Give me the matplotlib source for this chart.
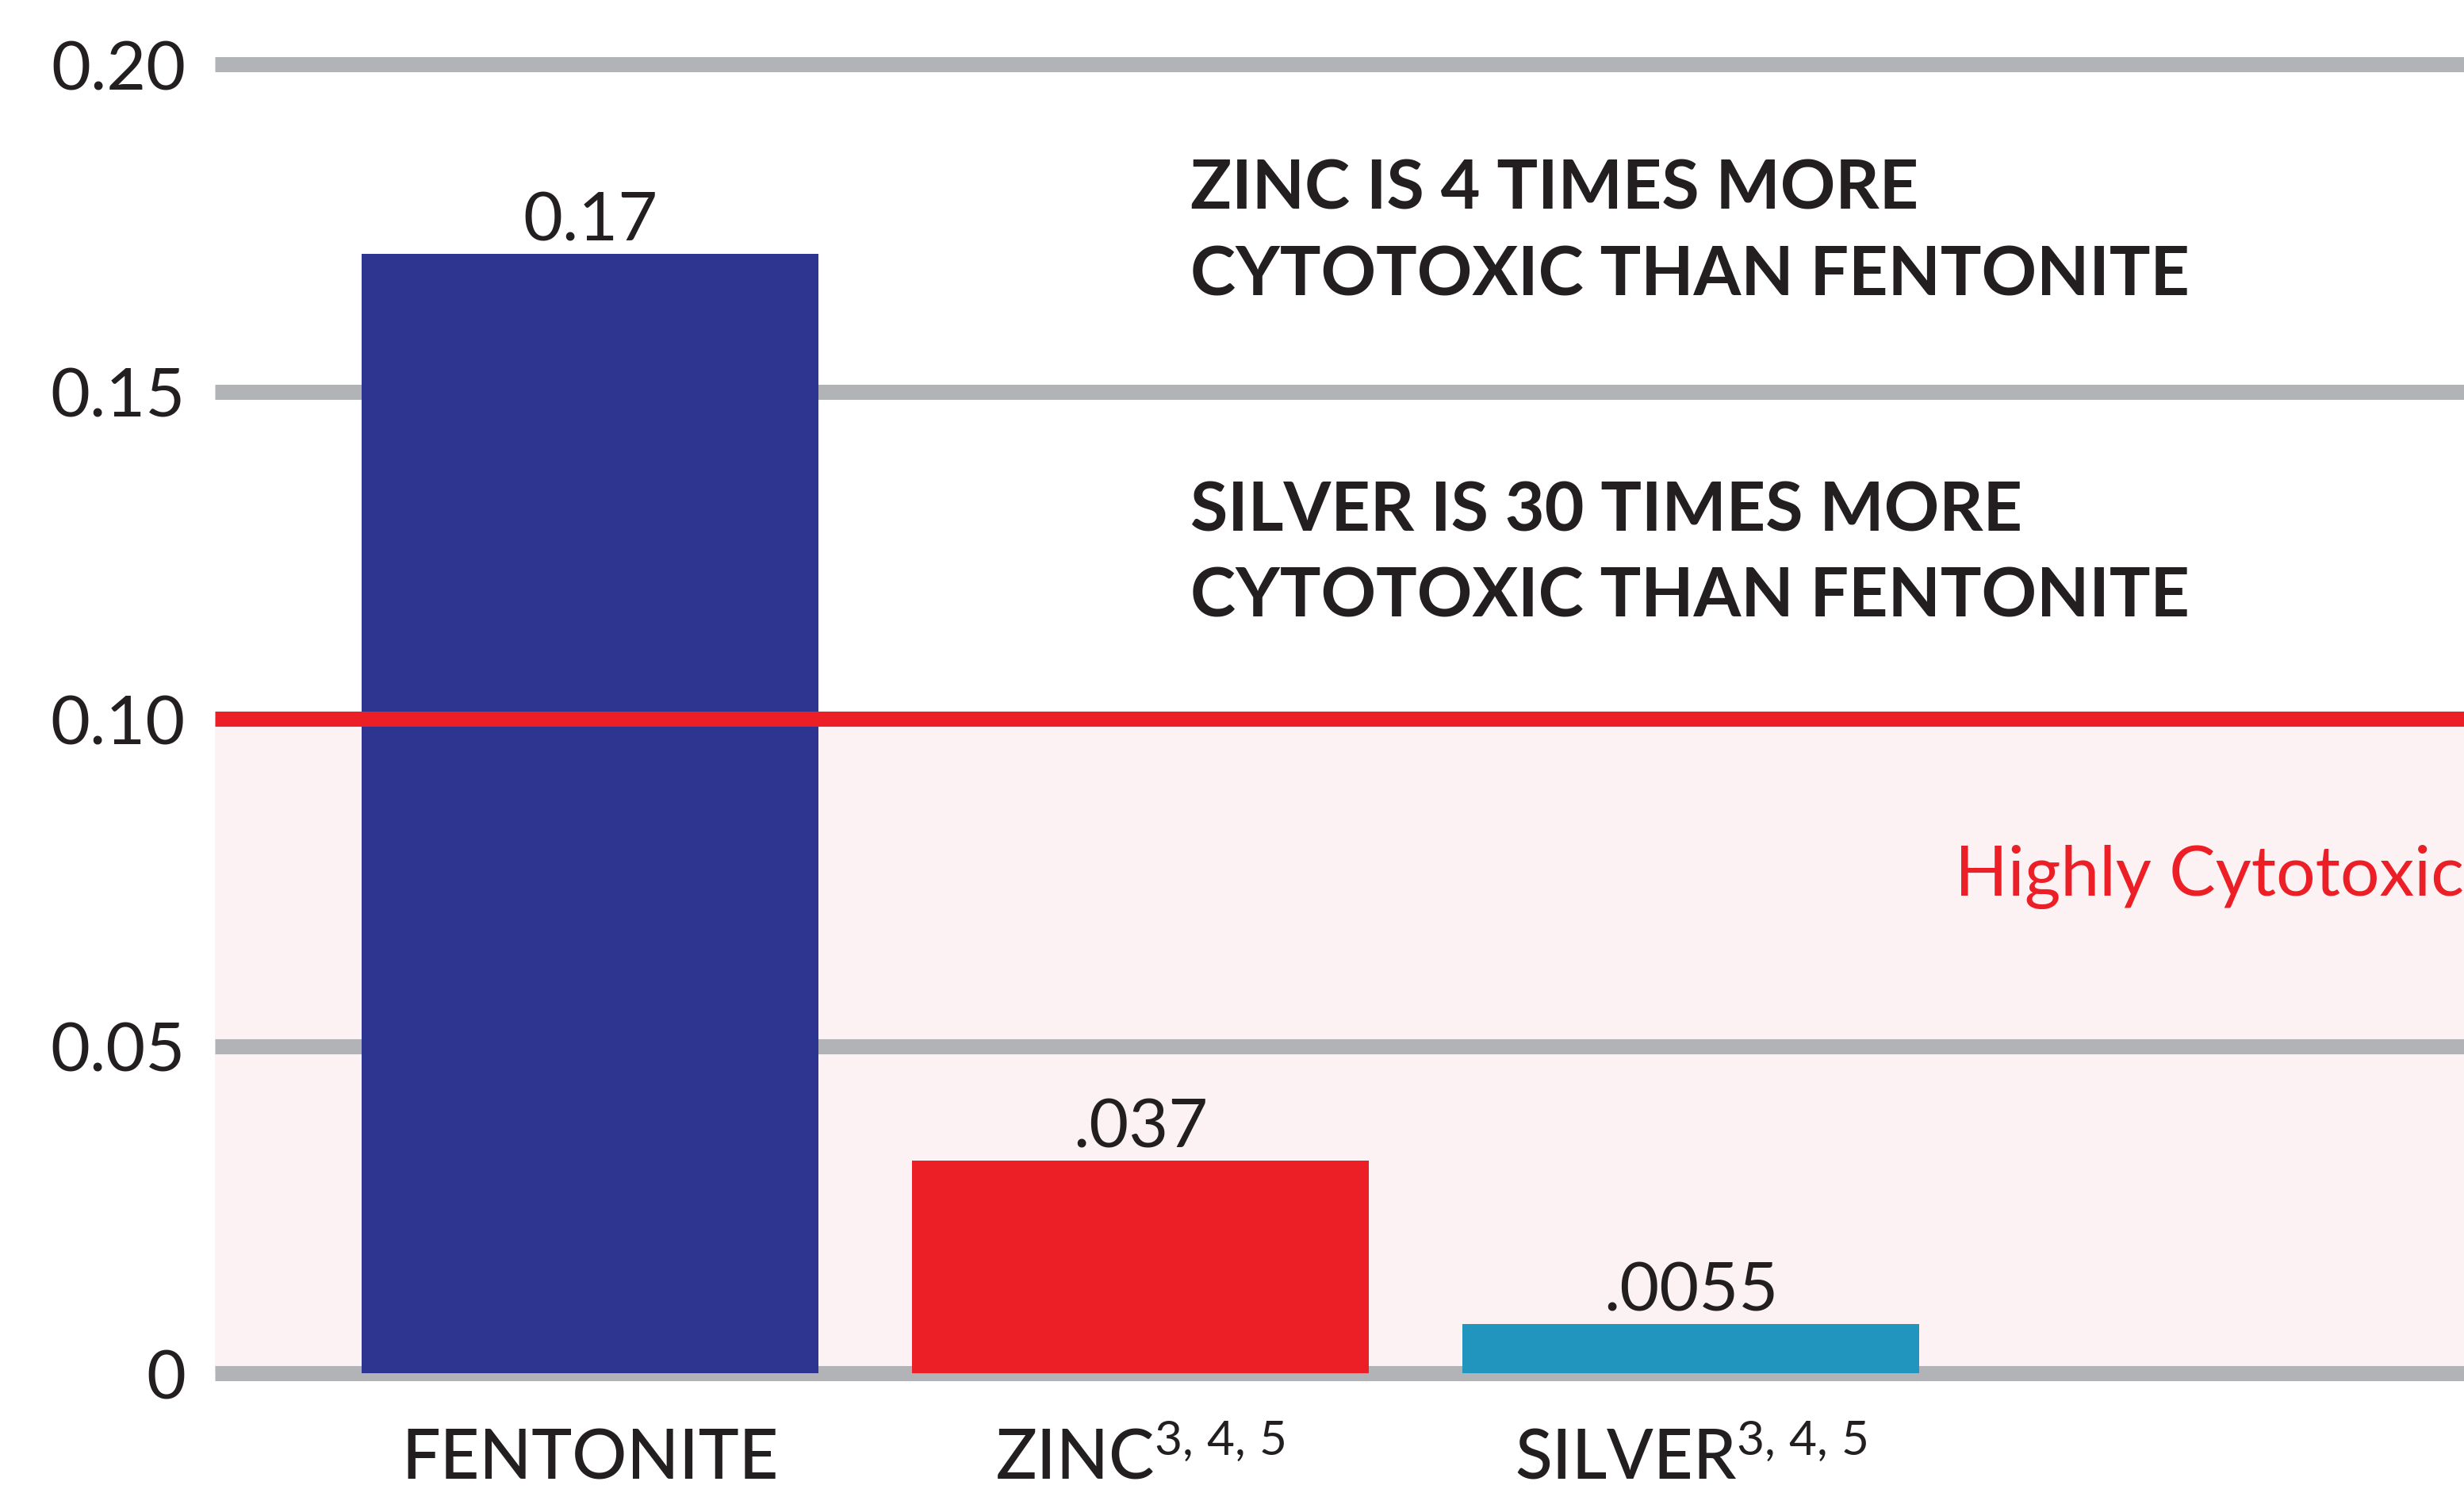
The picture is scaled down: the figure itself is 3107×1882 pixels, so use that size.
import matplotlib
matplotlib.use("Agg")
import matplotlib.pyplot as plt

# data
categories = ["FENTONITE", r"ZINC$^{\mathrm{3,\,4,\,5}}$", r"SILVER$^{\mathrm{3,\,4,\,5}}$"]
bar_heights = [0.171, 0.0325, 0.0075]      # drawn heights
value_labels = ["0.17", ".037", ".0055"]   # printed labels
bar_colors = ["#2E3590", "#EC1F27", "#2195BD"]
y_ticks = [0, 0.05, 0.10, 0.15, 0.20]
y_tick_labels = ["0", "0.05", "0.10", "0.15", "0.20"]
threshold = 0.10
zinc_note = ["ZINC IS 4 TIMES MORE", "CYTOTOXIC THAN FENTONITE"]
silver_note = ["SILVER IS 30 TIMES MORE", "CYTOTOXIC THAN FENTONITE"]
zone_label = "Highly Cytotoxic"

TEXT = "#231F20"
GRAY = "#B2B3B6"
PINK = "#FCF1F3"
RED = "#EC1F27"

plt.rcParams['font.family'] = ['Lato', 'DejaVu Sans']
plt.rcParams['mathtext.fontset'] = 'custom'
plt.rcParams['mathtext.rm'] = 'Lato'
plt.rcParams['mathtext.it'] = 'Lato:italic'
plt.rcParams['mathtext.bf'] = 'Lato:bold'

W, H = 3107, 1883
fig = plt.figure(figsize=(W / 100, H / 100), dpi=100)
ax = fig.add_axes([271 / W, 151 / H, 1 - 271 / W, 1650 / H])

x = list(range(len(categories)))

# highly cytotoxic zone
ax.axhspan(0, threshold, color=PINK, lw=0, zorder=0)

# gray grid lines
for t in y_ticks:
    if t == threshold:
        continue
    ax.axhline(t, color=GRAY, lw=13.7, solid_capstyle='butt', zorder=1, clip_on=False)

ax.bar(x, bar_heights, width=0.83, color=bar_colors, zorder=2)

ax.axhline(threshold, color=RED, lw=13.7, solid_capstyle='butt', zorder=3)

for xi, h, lbl in zip(x, bar_heights, value_labels):
    ax.annotate(lbl, (xi, h), xytext=(0, 12.5), textcoords='offset points',
                ha='center', va='baseline', fontsize=62, color=TEXT)

ax.set_xlim(-0.6816, 3.405)
ax.set_ylim(0, 0.2)
ax.set_yticks(y_ticks, y_tick_labels)
ax.set_xticks(x, categories)
ax.tick_params(axis='y', length=0, pad=26.6, labelsize=62, labelcolor=TEXT)
ax.tick_params(axis='x', length=0, pad=95.5, labelsize=62, labelcolor=TEXT)
plt.setp(ax.get_xticklabels(), va='baseline', fontweight='medium')
for s in ax.spines.values():
    s.set_visible(False)
ax.set_facecolor('none')

# annotations
for i, line in enumerate(zinc_note):
    fig.text(1501 / W, 1 - (263 + 110 * i) / H, line, fontsize=62, weight='bold',
             color=TEXT, va='baseline')
for i, line in enumerate(silver_note):
    fig.text(1501 / W, 1 - (669 + 109 * i) / H, line, fontsize=62, weight='bold',
             color=TEXT, va='baseline')

fig.text(2465 / W, 1 - 1129 / H, zone_label, fontsize=63, color=RED, va='baseline')

fig.savefig("out.png", dpi=100, facecolor='white')
